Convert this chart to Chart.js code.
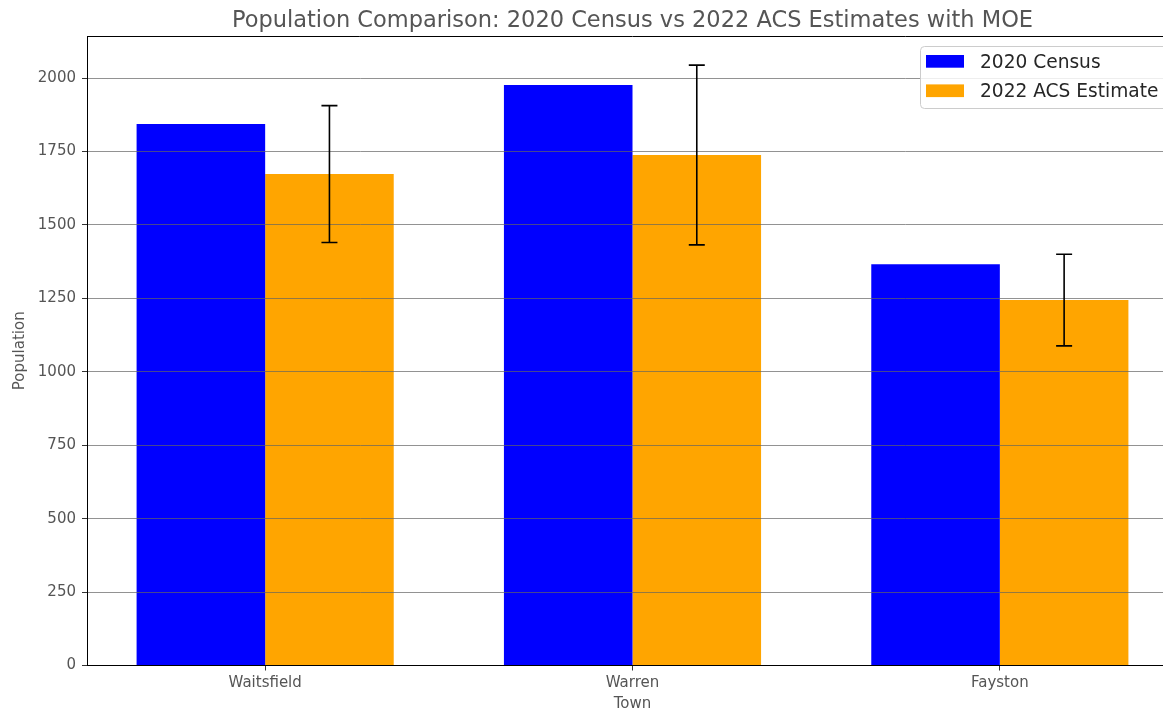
<!DOCTYPE html>
<html>
<head>
<meta charset="utf-8">
<script src="https://cdn.jsdelivr.net/npm/chart.js@4.4.1/dist/chart.umd.min.js"></script>
<style>
  html, body { margin: 0; padding: 0; background: #fff; overflow: hidden; }
  #wrap { width: 1178px; height: 712px; }
</style>
</head>
<body>
<div id="wrap"><canvas id="c" width="1178" height="712"></canvas></div>
<script>
// Town populations: 2020 decennial census vs 2022 ACS 5-year estimates
const towns = ['Waitsfield', 'Warren', 'Fayston'];
const census2020 = [1843, 1976, 1366];
const acs2022 = [1673, 1738, 1244];
const acsMoe = [233, 306, 156];
const yTicks = [0, 250, 500, 750, 1000, 1250, 1500, 1750, 2000];

const FONT = 'DejaVu Sans';
const TEXT = '#555555';

// Margin-of-error whiskers on the ACS bars
const errorBars = {
  id: 'errorBars',
  afterDraw(chart) {
    const ctx = chart.ctx;
    const y = chart.scales.y;
    const meta = chart.getDatasetMeta(1);
    ctx.save();
    ctx.strokeStyle = '#000';
    ctx.lineWidth = 1.6;
    meta.data.forEach((bar, i) => {
      const x = bar.x;
      const top = y.getPixelForValue(acs2022[i] + acsMoe[i]);
      const bot = y.getPixelForValue(acs2022[i] - acsMoe[i]);
      ctx.beginPath();
      ctx.moveTo(x, top); ctx.lineTo(x, bot);
      ctx.moveTo(x - 8, top); ctx.lineTo(x + 8, top);
      ctx.moveTo(x - 8, bot); ctx.lineTo(x + 8, bot);
      ctx.stroke();
    });
    ctx.restore();
  }
};

// Top frame line plus a boxed legend in the upper right of the plot
const frameAndLegend = {
  id: 'frameAndLegend',
  afterDraw(chart) {
    const ctx = chart.ctx;
    const a = chart.chartArea;
    ctx.save();
    ctx.strokeStyle = '#000';
    ctx.lineWidth = 1;
    ctx.beginPath();
    ctx.moveTo(a.left, Math.round(a.top) + 0.5);
    ctx.lineTo(a.right, Math.round(a.top) + 0.5);
    ctx.stroke();

    const bx = 920.5, by = 46.5, bw = 280, bh = 62, r = 4;
    ctx.beginPath();
    ctx.moveTo(bx + r, by);
    ctx.lineTo(bx + bw - r, by);
    ctx.arcTo(bx + bw, by, bx + bw, by + r, r);
    ctx.lineTo(bx + bw, by + bh - r);
    ctx.arcTo(bx + bw, by + bh, bx + bw - r, by + bh, r);
    ctx.lineTo(bx + r, by + bh);
    ctx.arcTo(bx, by + bh, bx, by + bh - r, r);
    ctx.lineTo(bx, by + r);
    ctx.arcTo(bx, by, bx + r, by, r);
    ctx.closePath();
    ctx.fillStyle = 'rgba(255,255,255,0.85)';
    ctx.fill();
    ctx.strokeStyle = '#cccccc';
    ctx.stroke();

    ctx.font = '18.6px "' + FONT + '"';
    ctx.textBaseline = 'alphabetic';
    ctx.textAlign = 'left';
    chart.data.datasets.forEach((ds, i) => {
      const rowY = 55 + i * 29.4;
      ctx.fillStyle = ds.backgroundColor;
      ctx.fillRect(926, rowY, 38, 12.7);
      ctx.fillStyle = '#262626';
      ctx.fillText(ds.label, 980, rowY + 12.8);
    });
    ctx.restore();
  }
};

new Chart(document.getElementById('c'), {
  type: 'bar',
  data: {
    datasets: [
      {
        label: '2020 Census',
        data: census2020.map((v, i) => ({ x: i, y: v })),
        backgroundColor: '#0000ff'
      },
      {
        label: '2022 ACS Estimate',
        data: acs2022.map((v, i) => ({ x: i, y: v })),
        backgroundColor: '#ffa500'
      }
    ]
  },
  options: {
    responsive: false,
    animation: false,
    devicePixelRatio: 1,
    layout: { padding: 0 },
    categoryPercentage: 0.7,
    barPercentage: 1.0,
    plugins: {
      legend: { display: false },
      tooltip: { enabled: false },
      title: {
        display: true,
        fullSize: false,
        text: 'Population Comparison: 2020 Census vs 2022 ACS Estimates with MOE',
        color: TEXT,
        font: { family: FONT, size: 22.5, weight: 'normal', lineHeight: 1.2 },
        padding: { top: 8, bottom: 1 }
      }
    },
    scales: {
      x: {
        type: 'linear',
        offset: false,
        min: -0.485,
        max: 2.485,
        afterBuildTicks(scale) {
          scale.ticks = towns.map((_, i) => ({ value: i }));
        },
        afterFit(scale) { scale.height = 46.5; },
        ticks: {
          color: TEXT,
          font: { family: FONT, size: 15 },
          padding: 4,
          callback: (v) => towns[v] ?? ''
        },
        grid: {
          offset: false,
          drawOnChartArea: false,
          drawTicks: true,
          tickLength: 5,
          tickColor: '#333'
        },
        border: { color: '#000', width: 1, z: 2 },
        title: {
          display: true,
          text: 'Town',
          color: TEXT,
          font: { family: FONT, size: 15, lineHeight: 1.0 },
          padding: { top: 0, bottom: 0 }
        }
      },
      y: {
        min: 0,
        max: 2143,
        afterBuildTicks(scale) {
          scale.ticks = yTicks.map(v => ({ value: v }));
        },
        afterFit(scale) { scale.width = 87; },
        ticks: {
          color: TEXT,
          font: { family: FONT, size: 15 },
          padding: 6,
          callback: (v) => String(v)
        },
        grid: {
          z: 1,
          color: 'rgba(100,100,100,0.7)',
          lineWidth: 1,
          drawTicks: true,
          tickLength: 5,
          tickColor: '#333'
        },
        border: { color: '#000', width: 1, z: 2 },
        title: {
          display: true,
          text: 'Population',
          color: TEXT,
          font: { family: FONT, size: 15, lineHeight: 1.2 },
          padding: { top: 11, bottom: 0 }
        }
      }
    }
  },
  plugins: [errorBars, frameAndLegend]
});
</script>
</body>
</html>
